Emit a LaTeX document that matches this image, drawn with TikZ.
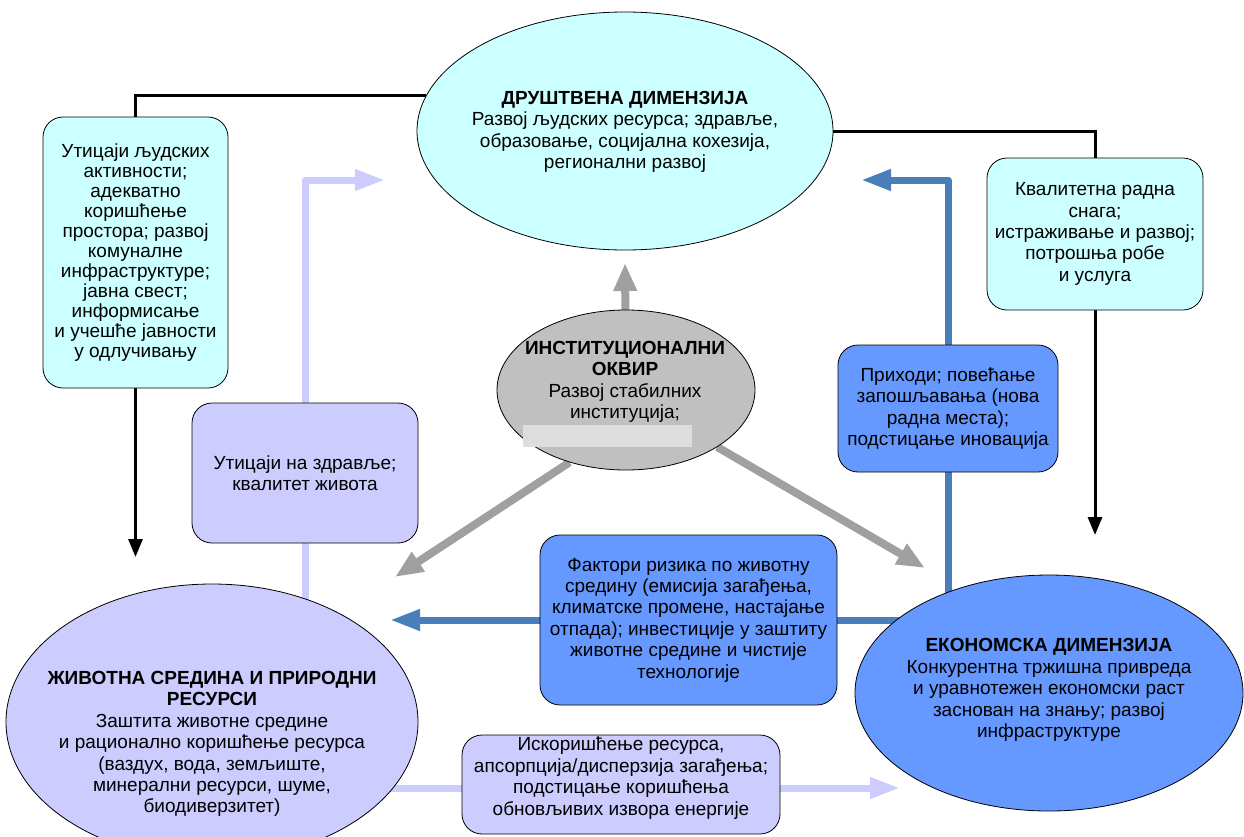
\documentclass[tikz,border=0pt]{standalone}
\usepackage{fontspec}
\setmainfont{Liberation Sans}
\usetikzlibrary{shapes.geometric,arrows.meta}
\definecolor{cyanF}{HTML}{CCFFFF}
\definecolor{lavF}{HTML}{CCCCFF}
\definecolor{blueF}{HTML}{6699FF}
\definecolor{grayF}{HTML}{C0C0C0}
\definecolor{grayA}{HTML}{A0A0A0}
\definecolor{blueA}{HTML}{4A7EBB}
\definecolor{paleR}{HTML}{DDDDDD}
\pgfdeclarelayer{bg}
\pgfsetlayers{bg,main}
\newcommand\fs{\fontsize{19}{21.4}\selectfont}
\newcommand\fsl{\fontsize{19}{20}\selectfont}
\tikzset{
  ell/.style={ellipse, draw=black, line width=0.8pt, inner sep=0pt},
  rbox/.style={rectangle, rounded corners=20pt, draw=black, line width=0.8pt, inner sep=0pt, align=center, font=\fs},
  txt/.style={align=center, font=\fs, inner sep=0pt},
  blkline/.style={draw=black, line width=3pt},
  blkarrow/.style={draw=black, line width=3pt, -{Triangle[length=18pt,width=14pt]}},
  grarrow/.style={draw=grayA, line width=8pt, -{Triangle[length=28pt,width=22pt]}},
  lvarrow/.style={draw=lavF, line width=7pt, line join=round, -{Triangle[length=30pt,width=20pt]}},
  blarrow/.style={draw=blueA, line width=7pt, line join=round, -{Triangle[length=30pt,width=20pt]}}
}
\begin{document}
\begin{tikzpicture}[x=1pt,y=-1pt]
\useasboundingbox (0,0) rectangle (1244,836);
\clip (0,0) rectangle (1244,836);

% ellipses
\node[ell, fill=cyanF, minimum width=416pt, minimum height=238pt] (soc) at (625,131) {};
\node[txt] (soct) at (625,132) {\textbf{ДРУШТВЕНА ДИМЕНЗИЈА}\\Развој људских ресурса; здравље,\\образовање, социјална кохезија,\\регионални развој};

\node[ell, fill=grayF, minimum width=258pt, minimum height=160pt] (inst) at (626,390) {};
\fill[paleR] (523,425) rectangle (692,447);
\node[txt] (instt) at (625,382) {\textbf{ИНСТИТУЦИОНАЛНИ}\\\textbf{ОКВИР}\\Развој стабилних\\институција;};

\node[ell, fill=lavF, minimum width=412pt, minimum height=276pt] (envl) at (212,722) {};
\node[txt] (envlt) at (212,744) {\textbf{ЖИВОТНА СРЕДИНА И ПРИРОДНИ}\\\textbf{РЕСУРСИ}\\Заштита животне средине\\и рационално коришћење ресурса\\(ваздух, вода, земљиште,\\минерални ресурси, шуме,\\биодиверзитет)};

\node[ell, fill=blueF, minimum width=388pt, minimum height=236pt] (eco) at (1049,693) {};
\node[txt] (ecot) at (1049,690) {\textbf{ЕКОНОМСКА ДИМЕНЗИЈА}\\Конкурентна тржишна привреда\\и уравнотежен економски раст\\заснован на знању; развој\\инфраструктуре};

% boxes
\node[rbox, fill=cyanF, minimum width=185pt, minimum height=271pt, font=\fsl] (lbox) at (135.5,252.5) {Утицаји људских\\активности;\\адекватно\\коришћење\\простора; развој\\комуналне\\инфраструктуре;\\јавна свест;\\информисање\\и учешће јавности\\у одлучивању};

\node[rbox, fill=cyanF, minimum width=216pt, minimum height=152pt] (rbox) at (1095,234) {Квалитетна радна\\снага;\\истраживање и развој;\\потрошња робе\\и услуга};

\node[rbox, fill=blueF, minimum width=220pt, minimum height=127pt] (bbox) at (948,408.5) {Приходи; повећање\\запошљавања (нова\\радна места);\\подстицање иновација};

\node[rbox, fill=lavF, minimum width=226pt, minimum height=140pt] (lbox2) at (305,473) {Утицаји на здравље;\\квалитет живота};

\node[rbox, fill=blueF, minimum width=297pt, minimum height=170pt] (cbox) at (688.5,620) {Фактори ризика по животну\\средину (емисија загађења,\\климатске промене, настајање\\отпада); инвестиције у заштиту\\животне средине и чистије\\технологије};

\node[rbox, fill=lavF, minimum width=318pt, minimum height=99pt] (bbox2) at (621,784.5) {};
\node[txt] (bbox2t) at (621,778) {Искоришћење ресурса,\\апсорпција/дисперзија загађења;\\подстицање коришћења\\обновљивих извора енергије};

% free ends
\coordinate (la) at (135.5,557);
\coordinate (ra) at (1095,535);
\coordinate (ga) at (625,263);
\coordinate (gl) at (395,577);
\coordinate (gr) at (925,568);
\coordinate (lvtip) at (385,180);
\coordinate (bltip) at (861,180);
\coordinate (cbtip) at (390,620);
\coordinate (lvtip2) at (900,788);

\begin{pgfonlayer}{bg}
\draw[blkline] (soc.170) -| (lbox.north);
\draw[blkarrow] (lbox.south) -- (la);
\draw[blkline] (soc.east) -| (rbox.north);
\draw[blkarrow] (rbox.south) -- (ra);
\draw[grarrow] (inst.center) -- (ga);
\draw[grarrow] (inst.232) -- (gl);
\draw[grarrow] (inst.-32) -- (gr);
\draw[lvarrow] (lbox2 |- envl) |- (lvtip);
\draw[blarrow] (bbox |- eco) |- (bltip);
\draw[blarrow] (eco.center |- cbtip) -- (cbtip);
\draw[lvarrow] (envl.center |- lvtip2) -- (lvtip2);
\end{pgfonlayer}
\end{tikzpicture}
\end{document}
